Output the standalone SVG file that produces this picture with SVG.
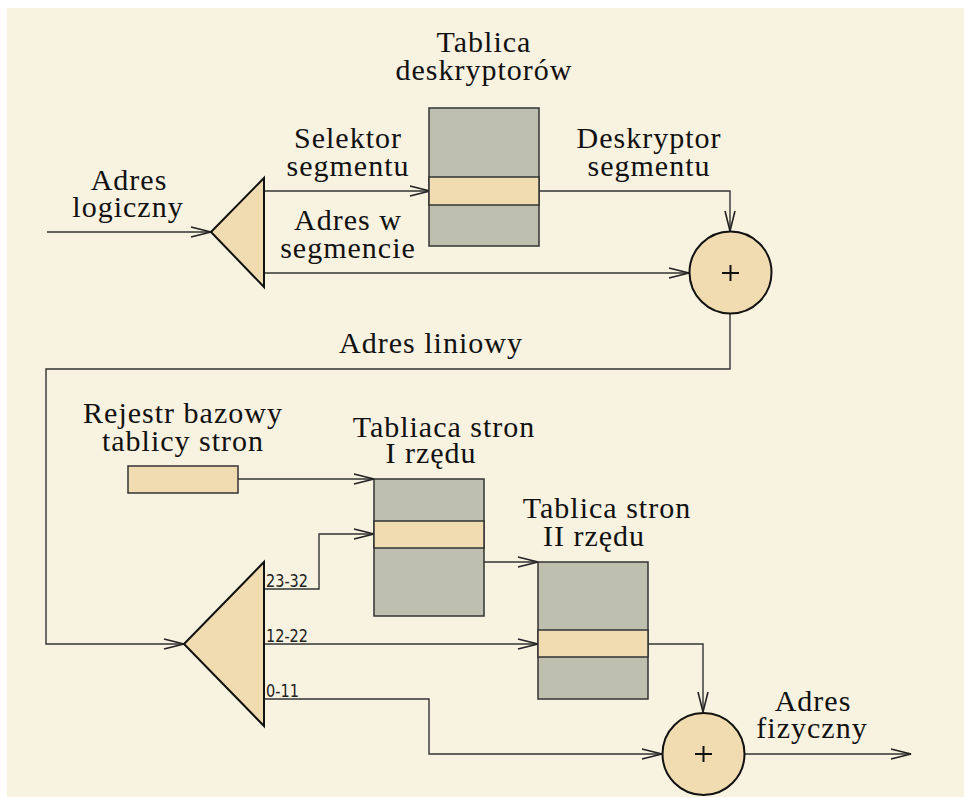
<svg xmlns="http://www.w3.org/2000/svg" width="964" height="798" viewBox="0 0 964 798">
  <style>
    .bg { fill: #f8f2e0; }
    .tbl { fill: #bfbfb0; stroke: #333; stroke-width: 1.5; }
    .band { fill: #f0dcb0; stroke: #333; stroke-width: 1.5; }
    .tri { fill: #f0dcb0; stroke: #111; stroke-width: 2; stroke-linejoin: miter; }
    .sum { fill: #f0dcb0; stroke: #111; stroke-width: 2; }
    .plus { stroke: #111; stroke-width: 2; fill: none; }
    .wire { fill: none; stroke: #333; stroke-width: 1.4; }
    .arr { marker-end: url(#open); }
    .lbl { font-family: "Liberation Serif", "Times New Roman", serif; font-size: 30px; letter-spacing: 1px; fill: #111; text-anchor: middle; }
    .bits { font-family: "DejaVu Sans", Verdana, sans-serif; font-size: 17px; fill: #222; }
  </style>
  <defs>
    <marker id="open" markerUnits="userSpaceOnUse" markerWidth="24" markerHeight="14" refX="21" refY="6" orient="auto" overflow="visible">
      <path d="M1,1 L21,6 L1,11" fill="none" stroke="#222" stroke-width="1.6"/>
    </marker>
  </defs>

  <rect class="bg" x="7" y="8" width="957" height="789"/>

  <!-- connectors -->
  <g id="connectors">
    <path class="wire arr" d="M47,232 L211,232"/>
    <path class="wire arr" d="M264,191 L430,191"/>
    <path class="wire arr" d="M264,273 L689,273"/>
    <path class="wire arr" d="M539,191 L730,191 L730,231"/>
    <path class="wire arr" d="M730,314 L730,369 L46,369 L46,644 L184,644"/>
    <path class="wire arr" d="M238,479 L374,479"/>
    <path class="wire arr" d="M264,589 L319,589 L319,534 L374,534"/>
    <path class="wire arr" d="M484,562 L538,562"/>
    <path class="wire arr" d="M264,644 L538,644"/>
    <path class="wire arr" d="M648,644 L703,644 L703,712"/>
    <path class="wire arr" d="M264,699 L429,699 L429,754 L662,754"/>
    <path class="wire arr" d="M745,754 L911,754"/>
  </g>

  <!-- logical address splitter -->
  <g id="split-logical">
    <polygon class="tri" points="211,232 264,178 264,287"/>
  </g>

  <!-- descriptor table -->
  <g id="descriptor-table">
    <rect class="tbl" x="429" y="108" width="110" height="138"/>
    <rect class="band" x="429" y="177" width="110" height="28"/>
  </g>

  <!-- segment adder -->
  <g id="adder-linear">
    <circle class="sum" cx="730.5" cy="272.5" r="41"/>
    <path class="plus" d="M722,273 L739,273 M730.5,265 L730.5,281"/>
  </g>

  <!-- page directory base register -->
  <g id="base-register">
    <rect class="band" x="128" y="466" width="110" height="27"/>
  </g>

  <!-- linear address splitter -->
  <g id="split-linear">
    <polygon class="tri" points="184,644 264,562 264,726"/>
  </g>

  <!-- first level page table -->
  <g id="page-table-1">
    <rect class="tbl" x="374" y="479" width="110" height="137"/>
    <rect class="band" x="374" y="521" width="110" height="27"/>
  </g>

  <!-- second level page table -->
  <g id="page-table-2">
    <rect class="tbl" x="538" y="562" width="110" height="137"/>
    <rect class="band" x="538" y="630" width="110" height="27"/>
  </g>

  <!-- physical address adder -->
  <g id="adder-physical">
    <circle class="sum" cx="703.5" cy="754" r="41"/>
    <path class="plus" d="M695,754 L712,754 M703.5,746 L703.5,762"/>
  </g>

  <!-- labels -->
  <g id="labels">
    <text class="lbl" x="484" y="52">Tablica</text>
    <text class="lbl" x="484" y="80">deskryptorów</text>
    <text class="lbl" x="348" y="148">Selektor</text>
    <text class="lbl" x="348" y="176">segmentu</text>
    <text class="lbl" x="649" y="148">Deskryptor</text>
    <text class="lbl" x="649" y="176">segmentu</text>
    <text class="lbl" x="129" y="190">Adres</text>
    <text class="lbl" x="128" y="217">logiczny</text>
    <text class="lbl" x="348" y="230">Adres w</text>
    <text class="lbl" x="348" y="258">segmencie</text>
    <text class="lbl" x="431" y="353">Adres liniowy</text>
    <text class="lbl" x="183" y="423">Rejestr bazowy</text>
    <text class="lbl" x="183" y="451">tablicy stron</text>
    <text class="lbl" x="444" y="437">Tabliaca stron</text>
    <text class="lbl" x="431" y="463">I rzędu</text>
    <text class="lbl" x="607" y="518">Tablica stron</text>
    <text class="lbl" x="594" y="546">II rzędu</text>
    <text class="lbl" x="813" y="711">Adres</text>
    <text class="lbl" x="812" y="738">fizyczny</text>
    <text class="bits" x="266" y="587" textLength="42" lengthAdjust="spacingAndGlyphs">23-32</text>
    <text class="bits" x="266" y="642" textLength="42" lengthAdjust="spacingAndGlyphs">12-22</text>
    <text class="bits" x="266" y="697" textLength="33" lengthAdjust="spacingAndGlyphs">0-11</text>
  </g>
</svg>
